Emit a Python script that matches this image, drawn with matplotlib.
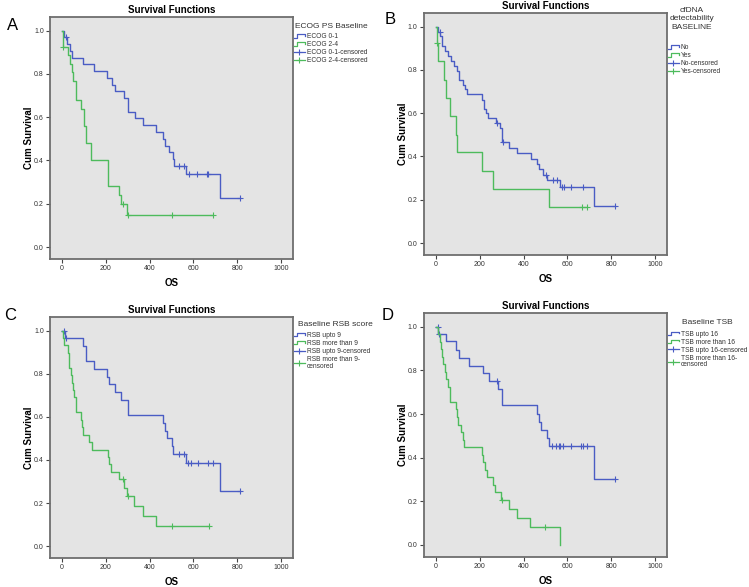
import numpy as np
import matplotlib
matplotlib.use("Agg")
import matplotlib.pyplot as plt
from matplotlib.lines import Line2D
from matplotlib.legend_handler import HandlerBase

plt.rcParams['font.family'] = ['Liberation Sans', 'DejaVu Sans']

AZUL = '#4a5cc4'
VERDE = '#4dbb5c'
FUNDO = '#e4e4e4'
MOLDURA = '#6e6e6e'

# ---- painel A : ECOG PS Baseline
a_tempo1 = [0, 10, 23, 34, 46, 95, 145, 205, 228, 240, 285, 300, 335, 370, 430, 462, 470, 490, 505, 512, 565, 720]
a_surv1 = [1.0, 0.969, 0.938, 0.906, 0.875, 0.844, 0.813, 0.781, 0.75, 0.719, 0.688, 0.625, 0.594, 0.563,
           0.531, 0.5, 0.469, 0.438, 0.406, 0.375, 0.337, 0.225]
a_cens1 = [18, 534, 557, 580, 617, 662, 668, 812]
a_tempo2 = [0, 2, 4, 28, 35, 45, 50, 64, 87, 98, 110, 130, 211, 262, 270, 298]
a_surv2 = [1.0, 0.962, 0.923, 0.885, 0.846, 0.808, 0.769, 0.68, 0.64, 0.56, 0.48, 0.40, 0.28, 0.24, 0.20, 0.15]
a_cens2 = [6, 278, 300, 500, 690]
a_rotulos = ['ECOG 0-1', 'ECOG 2-4', 'ECOG 0-1-censored', 'ECOG 2-4-censored']

# ---- painel B : cfDNA detectability
b_tempo1 = [0, 8, 20, 28, 43, 54, 69, 84, 95, 107, 123, 133, 144, 210, 218, 230, 238, 273, 294, 301,
            334, 371, 432, 460, 471, 488, 506, 567, 724]
b_surv1 = [1.0, 0.977, 0.955, 0.91, 0.886, 0.864, 0.841, 0.818, 0.795, 0.755, 0.73, 0.71, 0.688, 0.66,
           0.62, 0.6, 0.577, 0.556, 0.53, 0.465, 0.44, 0.415, 0.39, 0.365, 0.34, 0.315, 0.29, 0.26, 0.17]
b_cens1 = [18, 281, 304, 502, 534, 555, 575, 583, 618, 670, 818]
b_tempo2 = [0, 4, 11, 37, 48, 62, 90, 96, 208, 262, 518]
b_surv2 = [1.0, 0.923, 0.84, 0.755, 0.67, 0.585, 0.50, 0.42, 0.335, 0.25, 0.167]
b_cens2 = [6, 665, 690]
b_rotulos = ['No', 'Yes', 'No-censored', 'Yes-censored']

# ---- painel C : Baseline RSB score
c_tempo1 = [0, 12, 97, 108, 145, 205, 216, 240, 271, 300, 463, 470, 479, 502, 507, 568, 723]
c_surv1 = [1.0, 0.964, 0.929, 0.857, 0.821, 0.786, 0.75, 0.714, 0.679, 0.607, 0.571, 0.536, 0.5,
           0.464, 0.429, 0.386, 0.257]
c_cens1 = [8, 18, 535, 557, 575, 590, 620, 665, 688, 815]
c_tempo2 = [0, 5, 10, 25, 30, 33, 40, 45, 50, 55, 62, 85, 92, 95, 125, 135, 208, 215, 225, 260,
            285, 298, 330, 370, 430]
c_surv2 = [1.0, 0.966, 0.931, 0.897, 0.862, 0.828, 0.793, 0.759, 0.724, 0.69, 0.621, 0.586, 0.552,
           0.517, 0.483, 0.448, 0.414, 0.379, 0.345, 0.31, 0.27, 0.233, 0.186, 0.14, 0.093]
c_cens2 = [280, 300, 500, 672]
c_rotulos = ['RSB upto 9', 'RSB more than 9', 'RSB upto 9-censored', 'RSB more than 9-\ncensored']

# ---- painel D : Baseline TSB
d_tempo1 = [0, 10, 45, 93, 105, 150, 213, 240, 285, 300, 462, 470, 480, 505, 515, 721]
d_surv1 = [1.0, 0.967, 0.933, 0.893, 0.857, 0.821, 0.786, 0.75, 0.714, 0.64, 0.6, 0.562, 0.525,
           0.49, 0.452, 0.301]
d_cens1 = [8, 15, 281, 529, 548, 560, 568, 580, 617, 663, 670, 690, 816]
d_tempo2 = [0, 8, 18, 25, 28, 30, 40, 48, 55, 65, 90, 95, 100, 115, 125, 130, 208, 215, 225, 235,
            260, 270, 298, 335, 370, 430, 568]
d_surv2 = [1.0, 0.966, 0.931, 0.897, 0.862, 0.828, 0.793, 0.759, 0.724, 0.655, 0.621, 0.586, 0.552,
           0.517, 0.483, 0.448, 0.414, 0.379, 0.345, 0.31, 0.276, 0.241, 0.207, 0.166, 0.124, 0.083, 0.0]
d_cens2 = [300, 500]
d_rotulos = ['TSB upto 16', 'TSB more than 16', 'TSB upto 16-censored', 'TSB more than 16-\ncensored']


class HandlerDegrau(HandlerBase):
    """desenha o simbolo em degrau da legenda (estilo SPSS)"""
    def create_artists(self, legend, orig, xd, yd, w, h, fontsize, trans):
        xs = [xd, xd + 0.3 * w, xd + 0.3 * w, xd + w, xd + w]
        ys = [yd + 0.15 * h, yd + 0.15 * h, yd + 0.85 * h, yd + 0.85 * h, yd + 0.55 * h]
        linha = Line2D(xs, ys, color=orig.get_color(), lw=0.9, transform=trans)
        return [linha]


def desenhar_curva(ax, tempo, surv, cens, cor):
    tempo = np.asarray(tempo, float)
    surv = np.asarray(surv, float)
    fim = max(tempo[-1], max(cens))
    t = np.append(tempo, fim)
    s = np.append(surv, surv[-1])
    ax.step(t, s, where='post', color=cor, lw=1.0)
    idx = np.searchsorted(tempo, cens, side='right') - 1
    ax.plot(cens, surv[idx], linestyle='none', marker='+', color=cor, ms=5, mew=0.8)


def painel(pos, letra, letra_xy, titulo_leg, titulo_xy, titulo_ha, rotulos, curvas, leg_y):
    ax = fig.add_axes(pos)
    ax.set_facecolor(FUNDO)
    for (tempo, surv, cens), cor in zip(curvas, [AZUL, VERDE]):
        desenhar_curva(ax, tempo, surv, cens, cor)
    ax.set_xlim(-55, 1055)
    ax.set_ylim(-0.055, 1.063)
    ax.set_xticks(np.arange(0, 1001, 200))
    ax.set_yticks(np.arange(0, 1.01, 0.2))
    ax.set_yticklabels(['%.1f' % v for v in np.arange(0, 1.01, 0.2)])
    ax.tick_params(labelsize=5, length=3, width=0.8, color='#444444', pad=1.5, labelcolor='#333333')
    for lado in ax.spines.values():
        lado.set_color(MOLDURA)
        lado.set_linewidth(1.3)
    ax.set_title('Survival Functions', fontsize=7, fontweight='bold', pad=3)
    ax.set_xlabel('OS', fontsize=7, fontweight='bold', labelpad=4)
    ax.set_ylabel('Cum Survival', fontsize=7, fontweight='bold', labelpad=0)
    fig.text(letra_xy[0] / 749, 1 - letra_xy[1] / 587, letra, fontsize=12,
             ha='center', va='center')

    # titulo da legenda como texto separado (mais espaco antes das entradas)
    fig.text(titulo_xy[0] / 749, 1 - titulo_xy[1] / 587, titulo_leg, fontsize=6,
             ha=titulo_ha, va='center', multialignment='center', color='#333333',
             linespacing=1.25)

    handles = [Line2D([], [], color=AZUL), Line2D([], [], color=VERDE),
               Line2D([], [], color=AZUL, marker='+', ms=5, mew=0.8, lw=0.9),
               Line2D([], [], color=VERDE, marker='+', ms=5, mew=0.8, lw=0.9)]
    leg = ax.legend(handles, rotulos, loc='upper left',
                    bbox_to_anchor=(1.0, leg_y), frameon=False, fontsize=4.8,
                    handlelength=1.7, handletextpad=0.3,
                    labelspacing=0.15, borderaxespad=0, borderpad=0.1,
                    handler_map={handles[0]: HandlerDegrau(), handles[1]: HandlerDegrau()})
    for txt in leg.get_texts():
        txt.set_color('#333333')
        txt.set_linespacing(0.95)
    return ax


fig = plt.figure(figsize=(7.49, 5.87), dpi=100)

painel([0.0668, 0.5588, 0.3244, 0.4123], 'A', (13, 25), 'ECOG PS Baseline', (295, 26), 'left', a_rotulos,
       [(a_tempo1, a_surv1, a_cens1), (a_tempo2, a_surv2, a_cens2)], 0.935)
painel([0.566, 0.5656, 0.3244, 0.4123], 'B', (390, 20), 'cfDNA\ndetectability\nBASELINE', (692, 19), 'center',
       b_rotulos, [(b_tempo1, b_surv1, b_cens1), (b_tempo2, b_surv2, b_cens2)], 0.873)
painel([0.0668, 0.0494, 0.3244, 0.4106], 'C', (10, 315), 'Baseline RSB score', (298, 325), 'left', c_rotulos,
       [(c_tempo1, c_surv1, c_cens1), (c_tempo2, c_surv2, c_cens2)], 0.94)
painel([0.566, 0.0511, 0.3244, 0.4157], 'D', (388, 315), 'Baseline TSB', (707, 323), 'center', d_rotulos,
       [(d_tempo1, d_surv1, d_cens1), (d_tempo2, d_surv2, d_cens2)], 0.93)

fig.savefig('out.png', dpi=100, facecolor='white')
